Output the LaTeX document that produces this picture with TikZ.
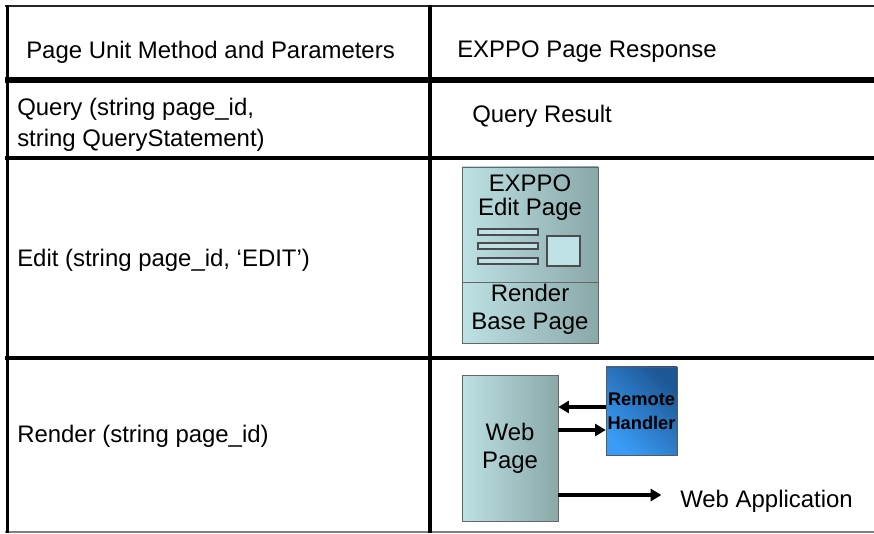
\documentclass[tikz,border=0pt]{standalone}
\usepackage{fontspec}
\setmainfont{Liberation Sans}
\usetikzlibrary{arrows.meta}
\definecolor{tealhi}{HTML}{BDE1E4}
\definecolor{teallo}{HTML}{8AA8A8}
\definecolor{bluehi}{HTML}{3A9CF6}
\definecolor{bluelo}{HTML}{1E5796}
\begin{document}
\begin{tikzpicture}
[
    x=0.75pt, y=-0.75pt,
    every node/.style={inner sep=0pt, font=\fontsize{17.95}{21}\selectfont},
    rule/.style={line width=#1},
    tealbox/.style={draw=black!60, left color=tealhi, right color=teallo},
    tealbar/.style={draw=black!70, fill=tealhi, line width=0.9pt},
    link/.style={line width=2.6pt, -{Triangle[length=8pt,width=9pt]}},
]
\useasboundingbox (0,0) rectangle (874,534);
% table rules
\draw[rule=1.5pt, black!85] (5,6) -- (874,6);
\draw[rule=4.5pt] (5,80) -- (874,80);
\draw[rule=2.6pt] (5,158) -- (874,158);
\draw[rule=3.4pt] (5,358) -- (874,358);
\draw[rule=1.5pt, black!50] (5,532) -- (874,532);
\draw[rule=2.25pt] (7,5) -- (7,533);
\draw[rule=3pt] (430,5) -- (430,533);
% first column
\node[anchor=base west] (colmethod) at (26,59) {Page Unit Method and Parameters};
\node[anchor=north west, align=left, font=\fontsize{17.95}{23.25}\selectfont] (query) at (17,98)
    {Query (string page\_id,\\string QueryStatement)};
\node[anchor=base west] (edit) at (17,267) {Edit (string page\_id, ‘EDIT’)};
\node[anchor=base west] (render) at (17,442) {Render (string page\_id)};
% second column
\node[anchor=base west] (colresponse) at (457,58) {EXPPO Page Response};
\node[anchor=base west] (result) at (472,123) {Query Result};
\draw[tealbox] (462,167) rectangle (598,343);
\draw[black!60] (462,282) -- (598,282);
\foreach \y in {232,246,261}
    \draw[tealbar] (478,\y-3) rectangle (538,\y+3);
\draw[tealbar] (547,236) rectangle (580,266);
\node[anchor=north, align=center, font=\fontsize{17.95}{18}\selectfont] (edittitle) at (530,175) {EXPPO\\Edit Page};
\node[anchor=north, align=center] (basetitle) at (530,284) {Render\\Base Page};
\node[tealbox, minimum width=72pt, minimum height=109.5pt, align=center] (webpage) at (510,448) {Web\\Page};
\node[draw=black!65, left color=bluehi, right color=bluelo, shading angle=135,
    minimum width=53.25pt, minimum height=66pt, align=center,
    font=\fontsize{13.7}{18}\selectfont\bfseries] (handler) at (641.5,411) {Remote\\Handler};
\node[anchor=west] (webapp) at (680,501) {Web Application};
\coordinate (back) at ([yshift=3pt]handler.west);
\coordinate (call) at ([yshift=-14.25pt]handler.west);
\coordinate (out) at ([yshift=-35.25pt]webpage.east);
\draw[link] (back) -- (back -| webpage.east);
\draw[link] (call -| webpage.east) -- (call);
\draw[link, shorten >=14pt] (out) -- (out -| webapp.west);
\end{tikzpicture}
\end{document}
